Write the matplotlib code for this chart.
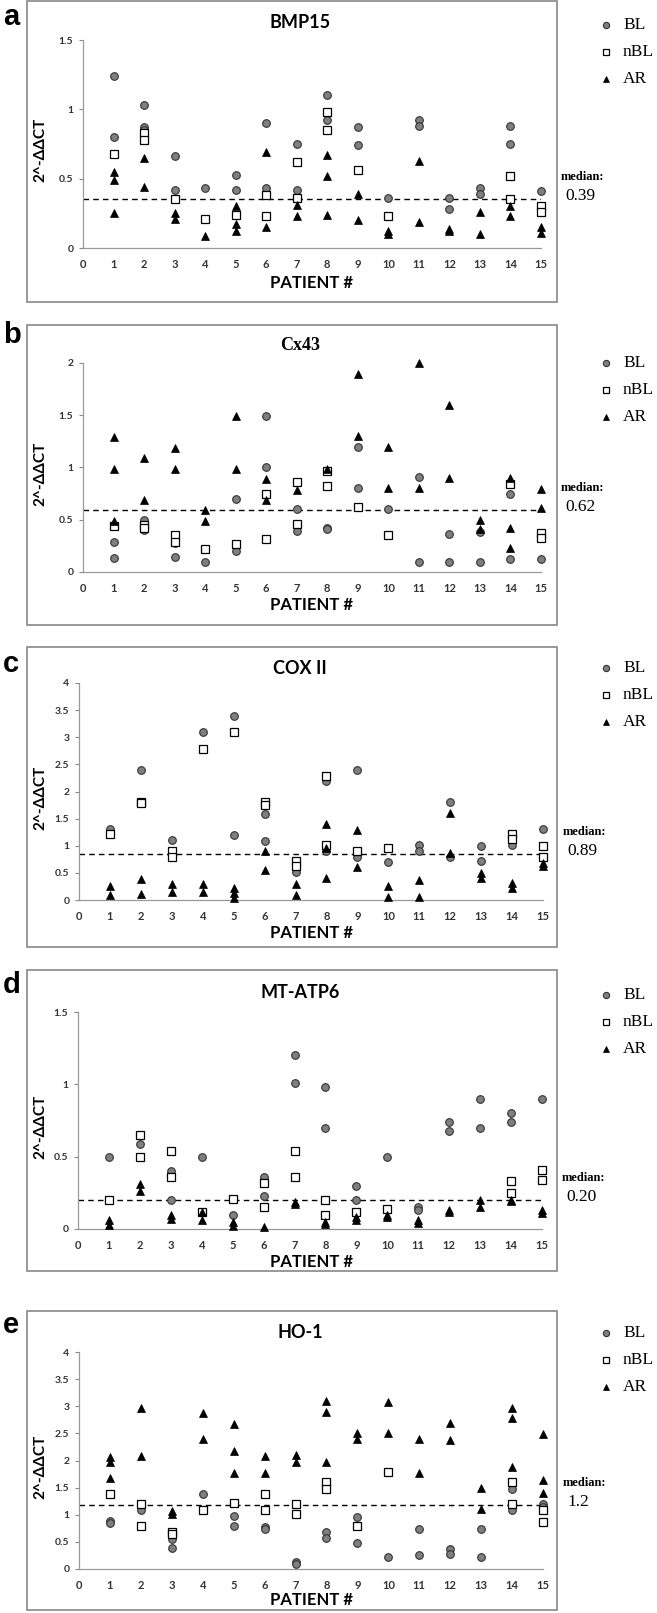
import matplotlib
matplotlib.use("Agg")
import matplotlib.pyplot as plt
from matplotlib.patches import Rectangle

W, H = 657, 1613

genes = ["BMP15", "Cx43", "COX II", "MT-ATP6", "HO-1"]
panel_letters = ["a", "b", "c", "d", "e"]
median_labels = ["0.39", "0.62", "0.89", "0.20", "1.2"]
median_lines = [0.35, 0.59, 0.85, 0.20, 1.18]
y_max = [1.5, 2, 4, 1.5, 4]
patients = list(range(0, 16))
series_names = ["BL", "nBL", "AR"]

# (patient, 2^-ddCT)
bmp15_bl = [(1,1.24),(1,0.80),(2,1.03),(2,0.87),(2,0.85),(3,0.66),(3,0.42),(4,0.43),(5,0.53),(5,0.42),
            (6,0.90),(6,0.43),(7,0.75),(7,0.42),(8,1.10),(8,0.92),(9,0.87),(9,0.74),(10,0.36),(11,0.92),
            (11,0.88),(12,0.36),(12,0.28),(13,0.43),(13,0.39),(14,0.88),(14,0.75),(15,0.41)]
bmp15_nbl = [(1,0.68),(2,0.83),(2,0.78),(3,0.35),(4,0.21),(5,0.24),(6,0.38),(6,0.23),(7,0.62),(7,0.36),
             (8,0.98),(8,0.85),(9,0.56),(10,0.23),(14,0.52),(14,0.35),(15,0.30),(15,0.26)]
bmp15_ar = [(1,0.55),(1,0.49),(1,0.25),(2,0.65),(2,0.44),(3,0.25),(3,0.21),(4,0.09),(5,0.30),(5,0.17),
            (5,0.12),(6,0.69),(6,0.15),(7,0.31),(7,0.23),(8,0.67),(8,0.52),(8,0.24),(9,0.39),(9,0.20),
            (10,0.12),(10,0.10),(11,0.63),(11,0.19),(12,0.14),(12,0.12),(13,0.26),(13,0.10),(14,0.30),
            (14,0.23),(15,0.15),(15,0.11)]

cx43_bl = [(1,0.29),(1,0.13),(2,0.50),(2,0.40),(3,0.28),(3,0.14),(4,0.10),(5,0.70),(5,0.20),(6,1.49),
           (6,1.00),(7,0.60),(7,0.39),(8,0.42),(8,0.41),(9,1.20),(9,0.80),(10,0.60),(11,0.91),(11,0.10),
           (12,0.36),(12,0.10),(13,0.38),(13,0.10),(14,0.75),(14,0.12),(15,0.12)]
cx43_nbl = [(1,0.44),(2,0.45),(2,0.42),(3,0.35),(3,0.29),(4,0.22),(5,0.27),(6,0.75),(6,0.32),(7,0.86),
            (7,0.46),(8,0.97),(8,0.82),(9,0.62),(10,0.35),(14,0.84),(15,0.37),(15,0.33)]
cx43_ar = [(1,1.29),(1,0.99),(1,0.49),(2,1.09),(2,0.69),(3,1.19),(3,0.99),(4,0.59),(4,0.49),(5,1.49),
           (5,0.99),(6,0.89),(6,0.69),(7,0.78),(8,0.99),(9,1.89),(9,1.30),(10,1.20),(10,0.80),(11,2.00),
           (11,0.80),(12,1.60),(12,0.90),(13,0.50),(13,0.41),(14,0.90),(14,0.42),(14,0.23),(15,0.79),(15,0.61)]

cox2_bl = [(1,1.30),(2,2.39),(3,1.10),(4,3.10),(5,3.39),(5,1.20),(6,1.59),(6,1.09),(7,0.60),(7,0.52),
           (8,2.20),(8,0.90),(9,2.39),(9,0.86),(9,0.80),(10,0.70),(11,1.02),(11,0.90),(12,1.81),(12,0.80),
           (13,1.00),(13,0.71),(14,1.02),(15,1.30)]
cox2_nbl = [(1,1.21),(2,1.80),(2,1.78),(3,0.90),(3,0.80),(4,2.79),(5,3.10),(6,1.80),(6,1.75),(7,0.72),
            (7,0.62),(8,2.29),(8,1.02),(9,0.90),(10,0.95),(14,1.21),(14,1.13),(15,1.00),(15,0.80)]
cox2_ar = [(1,0.25),(1,0.09),(2,0.39),(2,0.11),(3,0.29),(3,0.14),(4,0.29),(4,0.14),(5,0.22),(5,0.12),
           (5,0.03),(6,0.90),(6,0.55),(7,0.29),(7,0.09),(8,1.40),(8,0.95),(8,0.40),(9,1.29),(9,0.60),
           (10,0.25),(10,0.05),(11,0.36),(11,0.06),(12,1.60),(12,0.86),(13,0.49),(13,0.40),(14,0.31),
           (14,0.22),(15,0.69),(15,0.62)]

atp6_bl = [(1,0.50),(2,0.59),(2,0.50),(3,0.40),(3,0.20),(4,0.50),(5,0.21),(5,0.10),(6,0.36),(6,0.23),
           (7,1.20),(7,1.01),(8,0.98),(8,0.70),(9,0.30),(9,0.20),(10,0.50),(11,0.155),(11,0.13),(12,0.74),
           (12,0.68),(13,0.90),(13,0.70),(14,0.80),(14,0.74),(15,0.90)]
atp6_nbl = [(1,0.20),(2,0.65),(2,0.50),(3,0.54),(3,0.36),(4,0.12),(5,0.21),(6,0.32),(6,0.15),(7,0.54),
            (7,0.36),(8,0.20),(8,0.10),(9,0.12),(10,0.135),(14,0.33),(14,0.25),(15,0.41),(15,0.34)]
atp6_ar = [(1,0.06),(1,0.025),(2,0.31),(2,0.26),(3,0.10),(3,0.07),(4,0.12),(4,0.06),(5,0.05),(5,0.02),
           (6,0.015),(7,0.19),(7,0.17),(8,0.05),(8,0.035),(9,0.085),(9,0.06),(10,0.10),(10,0.085),
           (11,0.06),(11,0.04),(12,0.13),(12,0.12),(13,0.20),(13,0.15),(14,0.20),(14,0.195),(15,0.13),(15,0.11)]

ho1_bl = [(1,0.89),(1,0.85),(2,1.08),(2,0.79),(3,0.62),(3,0.55),(3,0.38),(4,1.39),(5,0.98),(5,0.79),
          (6,0.78),(6,0.73),(7,0.13),(7,0.10),(8,0.68),(8,0.58),(9,0.95),(9,0.48),(10,0.23),(11,0.73),
          (11,0.25),(12,0.36),(12,0.27),(13,0.73),(13,0.23),(14,1.48),(14,1.08),(15,1.19),(15,1.14)]
ho1_nbl = [(1,1.39),(2,1.20),(2,0.79),(3,0.68),(3,0.64),(4,1.08),(5,1.21),(6,1.39),(6,1.08),(7,1.19),
           (7,1.02),(8,1.61),(8,1.48),(9,0.79),(10,1.79),(14,1.60),(14,1.19),(15,1.08),(15,0.87)]
ho1_ar = [(1,2.07),(1,1.98),(1,1.68),(2,2.97),(2,2.08),(3,1.06),(3,1.02),(4,2.88),(4,2.39),(5,2.68),
          (5,2.18),(5,1.77),(6,2.09),(6,1.77),(7,2.10),(7,1.98),(8,3.10),(8,2.89),(8,1.98),(9,2.50),
          (9,2.39),(10,3.08),(10,2.50),(11,2.39),(11,1.77),(12,2.70),(12,2.38),(13,1.50),(13,1.10),
          (14,2.97),(14,2.79),(14,1.88),(15,2.48),(15,1.64),(15,1.41)]

panel_data = [
    (bmp15_bl, bmp15_nbl, bmp15_ar),
    (cx43_bl, cx43_nbl, cx43_ar),
    (cox2_bl, cox2_nbl, cox2_ar),
    (atp6_bl, atp6_nbl, atp6_ar),
    (ho1_bl, ho1_nbl, ho1_ar),
]

# layout in pixels: axes (left, right, top, bottom), box (top, bottom), title y, legend first row y
axes_px = [(83, 541, 40, 248), (83, 541, 363, 572), (79, 543, 683, 900),
           (78, 542, 1012, 1229), (79, 543, 1352, 1569)]
box_px = [(1, 302), (325, 625), (647, 947), (970, 1271), (1311, 1610)]
title_y = [23, 346, 668, 992, 1333]
legend_y = [25, 363, 668, 995, 1333]
letter_y = [25, 343, 672, 993, 1333]
xlabel_y = [283, 605, 933, 1262, 1600]

styles = [
    dict(marker="o", mfc="#7f7f7f", mec="#333333", ms=5.5, mew=0.8),
    dict(marker="s", mfc="white", mec="black", ms=5.2, mew=0.9),
    dict(marker="^", mfc="black", mec="black", ms=5.5, mew=0.5),
]

sans = ["Lato", "DejaVu Sans"]
serif = ["Liberation Serif", "DejaVu Serif"]


def fx(px):
    return px / W


def fy(py):
    return 1 - py / H


fig = plt.figure(figsize=(W / 100, H / 100), dpi=100)

for i in range(5):
    l, r, t, b = axes_px[i]
    bt, bb = box_px[i]
    fig.patches.append(Rectangle((fx(27), fy(bb)), fx(557 - 27), (bb - bt) / H,
                                 transform=fig.transFigure, fill=False,
                                 edgecolor="#888888", lw=1.2))
    ax = fig.add_axes([fx(l), fy(b), (r - l) / W, (b - t) / H])

    for data, st in zip(panel_data[i], styles):
        xs = [p for p, v in data]
        ys = [v for p, v in data]
        ax.plot(xs, ys, ls="none", clip_on=False, zorder=3, **st)

    ax.hlines(median_lines[i], 0, 15, colors="black", linestyles=(0, (4, 3)), lw=1, zorder=2)

    ax.set_xlim(0, 15)
    ax.set_ylim(0, y_max[i])
    ax.set_xticks(patients)
    ax.set_xticklabels([str(p) for p in patients], fontfamily=sans,
                       fontweight="bold", fontsize=8, color="#333333")
    yt = [k * 0.5 for k in range(int(y_max[i] / 0.5) + 1)]
    ax.set_yticks(yt)
    ax.set_yticklabels(["%g" % v for v in yt], fontfamily=sans,
                       fontweight="bold", fontsize=7.5, color="#333333")
    ax.tick_params(axis="x", length=0, pad=8)
    ax.tick_params(axis="y", length=3, color="#888888", pad=4)
    for s in ["top", "right"]:
        ax.spines[s].set_visible(False)
    for s in ["left", "bottom"]:
        ax.spines[s].set_color("#999999")
        ax.spines[s].set_linewidth(0.9)

    ax.set_ylabel("2^-ΔΔCT", fontfamily=sans, fontweight="bold", fontsize=11)
    ax.yaxis.set_label_coords((47 - l) / (r - l), 0.47)

    fig.text(fx(312), fy(xlabel_y[i]), "PATIENT #", ha="center", va="center",
             fontfamily=sans, fontweight="bold", fontsize=12)

    tfam = serif if genes[i] == "Cx43" else sans
    fig.text(fx(300), fy(title_y[i]), genes[i], ha="center", va="center",
             fontfamily=tfam, fontweight="bold", fontsize=13)

    fig.text(fx(3), fy(letter_y[i]), panel_letters[i], ha="left", va="baseline",
             fontfamily=["Liberation Sans", "DejaVu Sans"], fontweight="bold", fontsize=21)

    # legend outside the box
    for k, (name, st) in enumerate(zip(series_names, styles)):
        yy = fy(legend_y[i] + 27 * k)
        fig.lines.append(plt.Line2D([fx(606)], [yy], transform=fig.transFigure,
                                    ls="none", **{**st, "ms": 4.5}))
        fig.text(fx(623), yy, name, ha="left", va="center", fontfamily=serif, fontsize=12.5)

    ax.annotate("median:", xy=(1, median_lines[i]), xycoords=("axes fraction", "data"),
                xytext=(20 * 0.72, 22 * 0.72), textcoords="offset points",
                ha="left", va="center", fontfamily=serif, fontsize=9, fontweight="bold",
                annotation_clip=False)
    ax.annotate(median_labels[i], xy=(1, median_lines[i]), xycoords=("axes fraction", "data"),
                xytext=(24 * 0.72, 3 * 0.72), textcoords="offset points",
                ha="left", va="center", fontfamily=serif, fontsize=12.5,
                annotation_clip=False)

fig.savefig("out.png", dpi=100)
